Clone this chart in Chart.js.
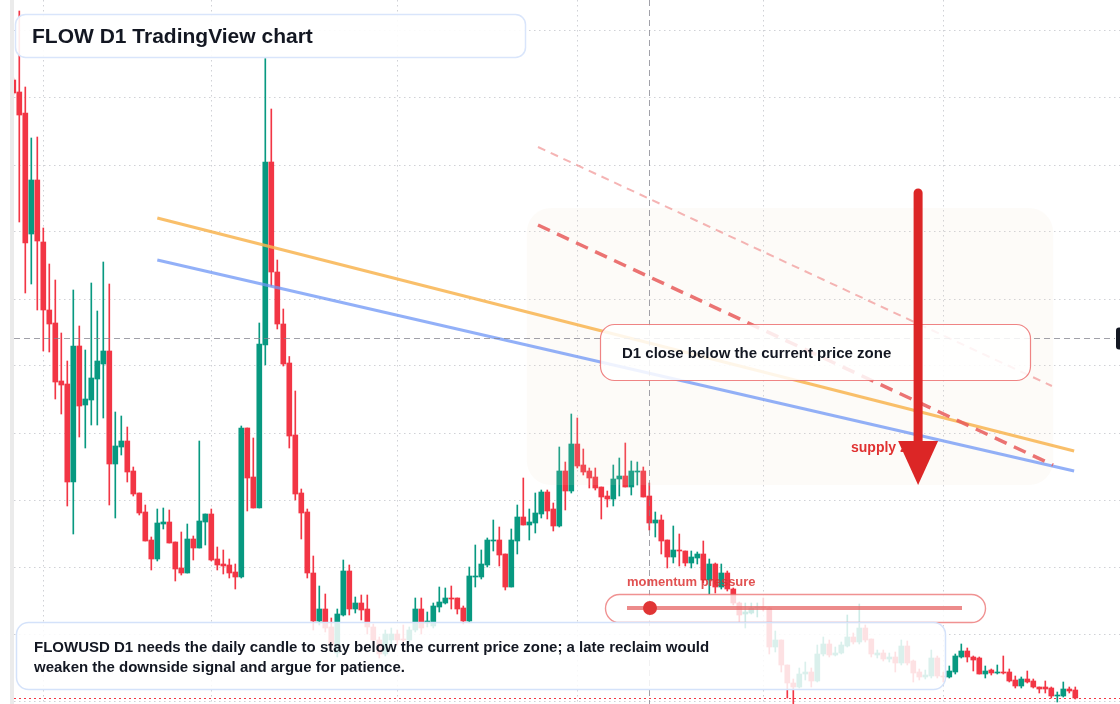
<!DOCTYPE html>
<html><head><meta charset="utf-8">
<script src="https://cdn.jsdelivr.net/npm/chart.js@4.4.1/dist/chart.umd.min.js"></script>
<style>html,body{margin:0;padding:0;background:#fff;}#wrap{position:relative;width:1120px;height:704px;}</style>
</head><body><div id="wrap"><canvas id="c"></canvas></div>
<script>
// Day index (0 = 1 Feb) of the first candle
const firstIndex = -5;
const open = [.924,.912,.891,.770,.824,.762,.694,.681,.623,.620,.522,.658,.599,.604,.625,.640,.653,.540,.557,.563,.533,.511,.492,.464,.445,.480,.482,.462,.436,.431,.465,.456,.482,.490,.445,.440,.439,.432,.427,.576,.527,.496,.659,.842,.732,.680,.641,.569,.511,.492,.431,.383,.395,.377,.351,.389,.433,.395,.401,.395,.377,.364,.350,.364,.370,.365,.364,.374,.395,.381,.378,.397,.401,.406,.406,.396,.383,.427,.427,.439,.463,.464,.450,.417,.463,.487,.479,.481,.490,.512,.495,.478,.533,.513,.560,.539,.533,.527,.517,.508,.505,.525,.528,.517,.532,.533,.508,.481,.484,.464,.447,.454,.453,.441,.446,.450,.424,.440,.417,.431,.415,.401,.390,.391,.396,.397,.396,.357,.364,.339,.321,.317,.330,.332,.323,.350,.360,.349,.351,.358,.367,.362,.376,.365,.349,.351,.345,.347,.341,.358,.343,.332,.327,.328,.346,.328,.327,.332,.347,.353,.347,.346,.330,.334,.331,.332,.332,.324,.318,.325,.323,.317,.317,.316,.308,.308,.315,.314];
const high = [.926,.993,.917,.866,.867,.776,.740,.724,.671,.643,.714,.678,.654,.721,.693,.742,.720,.592,.588,.577,.537,.511,.499,.467,.495,.496,.494,.462,.472,.480,.468,.563,.490,.495,.457,.454,.445,.440,.578,.576,.566,.681,.9455,.895,.744,.695,.6475,.613,.515,.495,.448,.418,.410,.386,.395,.444,.439,.407,.409,.409,.380,.367,.374,.376,.374,.379,.377,.406,.406,.392,.401,.417,.416,.418,.406,.398,.437,.459,.454,.466,.484,.477,.450,.475,.499,.526,.495,.511,.514,.514,.501,.557,.542,.590,.586,.555,.536,.536,.517,.513,.539,.546,.561,.543,.542,.537,.521,.492,.489,.464,.478,.470,.453,.453,.452,.463,.445,.441,.440,.433,.416,.402,.401,.401,.401,.406,.397,.373,.364,.339,.325,.336,.342,.336,.359,.367,.364,.357,.362,.389,.371,.400,.379,.365,.354,.354,.351,.352,.364,.363,.344,.335,.334,.354,.348,.332,.338,.350,.360,.356,.348,.347,.338,.335,.339,.348,.335,.328,.327,.333,.325,.317,.323,.317,.312,.322,.317,.317];
const low = [.909,.782,.711,.720,.694,.653,.652,.605,.590,.498,.470,.567,.556,.579,.579,.586,.499,.486,.549,.522,.508,.489,.463,.434,.443,.475,.461,.423,.429,.431,.444,.456,.459,.443,.434,.430,.426,.415,.426,.493,.496,.496,.639,.718,.675,.638,.556,.504,.465,.426,.374,.379,.372,.354,.347,.388,.389,.391,.384,.370,.359,.346,.348,.359,.359,.356,.362,.372,.370,.377,.376,.392,.400,.395,.390,.380,.381,.417,.425,.437,.453,.438,.414,.417,.450,.479,.464,.471,.486,.485,.473,.477,.494,.511,.536,.529,.516,.514,.485,.497,.498,.508,.517,.509,.519,.507,.474,.467,.450,.436,.441,.438,.438,.436,.440,.421,.410,.411,.415,.413,.399,.382,.376,.390,.387,.393,.350,.352,.332,.306,.300,.316,.324,.317,.322,.348,.347,.348,.350,.357,.360,.360,.362,.347,.346,.343,.342,.332,.339,.339,.322,.324,.325,.326,.326,.322,.326,.330,.346,.342,.333,.330,.326,.329,.330,.330,.322,.316,.316,.321,.316,.311,.311,.306,.302,.307,.311,.305];
const close = [.911,.889,.761,.824,.763,.694,.680,.622,.619,.522,.658,.598,.605,.626,.643,.653,.540,.558,.563,.532,.510,.491,.463,.445,.481,.482,.461,.435,.431,.465,.456,.483,.490,.444,.439,.438,.431,.427,.576,.526,.496,.660,.842,.732,.680,.640,.568,.510,.491,.431,.383,.395,.376,.359,.390,.433,.395,.401,.394,.377,.364,.350,.370,.370,.364,.364,.374,.395,.376,.383,.398,.402,.406,.405,.395,.383,.428,.428,.440,.464,.464,.449,.417,.464,.487,.479,.482,.491,.512,.493,.478,.533,.513,.560,.538,.532,.526,.516,.507,.505,.525,.528,.517,.533,.533,.507,.481,.484,.463,.447,.454,.453,.441,.447,.450,.424,.440,.417,.431,.415,.401,.389,.392,.396,.397,.396,.357,.364,.339,.321,.317,.330,.332,.323,.350,.360,.349,.351,.359,.367,.362,.376,.364,.350,.351,.345,.347,.341,.358,.341,.331,.327,.329,.346,.328,.327,.333,.348,.353,.347,.344,.330,.333,.331,.332,.331,.323,.318,.325,.322,.317,.315,.315,.308,.309,.315,.313,.306];
// month-start day indices used for the vertical grid
const monthStarts = [0, 28, 59, 89, 120, 150];
// price levels of the horizontal grid
const gridPrices = [0.973, 0.906, 0.839, 0.772, 0.705, 0.638, 0.571, 0.504, 0.437, 0.370, 0.303];
// overlays in (day index, price)
const orangeLine = [[19, 0.786], [171.8, 0.553]];
const blueLine = [[19, 0.744], [171.8, 0.533]];
const supplyDash = [[82.45, 0.779], [168.3, 0.539]];
const supplyDashLight = [[82.45, 0.857], [168.1, 0.618]];
const supplyZoneX = [80.6, 168.3];
const supplyZoneY = [0.796, 0.519];
const arrowX = 145.8;
const arrowY = [0.811, 0.519];
const crossX = 101;
const crossPrice = 0.666;

const n = open.length;
const idx = Array.from({length:n}, (_, i) => firstIndex + i);
const start = new Date(Date.UTC(2025, 1, 1));
const dates = idx.map(k => { const d = new Date(start.getTime() + k*86400000); return d.toISOString().slice(0,10); });
const GREEN = '#089981', RED = '#f23645';
const colors = idx.map((_, i) => close[i] >= open[i] ? GREEN : RED);

function roundRect(ctx, x, y, w, h, r){ ctx.beginPath(); ctx.roundRect(x, y, w, h, r); }

const overlay = {
  id: 'overlay',
  beforeDraw(chart){
    const ctx = chart.ctx;
    ctx.save(); ctx.fillStyle = '#ffffff'; ctx.fillRect(0,0,chart.width,chart.height);
    ctx.fillStyle = '#ebebeb'; ctx.fillRect(10,0,4,chart.height); ctx.restore();
  },
  afterDatasetsDraw(chart){
    const ctx = chart.ctx, xs = chart.scales.x, ys = chart.scales.y;
    const X = v => xs.getPixelForValue(v), Y = v => ys.getPixelForValue(v);
    const line = (pts, color, w, dash) => { ctx.save(); ctx.strokeStyle=color; ctx.lineWidth=w; ctx.setLineDash(dash||[]); ctx.lineCap='butt';
      ctx.beginPath(); ctx.moveTo(X(pts[0][0]), Y(pts[0][1])); ctx.lineTo(X(pts[1][0]), Y(pts[1][1])); ctx.stroke(); ctx.restore(); };
    // supply zone
    ctx.save(); ctx.fillStyle='rgba(240,220,200,0.12)';
    roundRect(ctx, X(supplyZoneX[0]), Y(supplyZoneY[0]), X(supplyZoneX[1])-X(supplyZoneX[0]), Y(supplyZoneY[1])-Y(supplyZoneY[0]), 24); ctx.fill(); ctx.restore();
    // trend lines
    line(orangeLine, 'rgba(248,180,80,0.85)', 3);
    line(blueLine, 'rgba(110,150,245,0.75)', 3);
    line(supplyDashLight, 'rgba(240,140,140,0.65)', 2, [8,6]);
    line(supplyDash, 'rgba(232,90,90,0.85)', 3.5, [13,8]);
    // crosshair
    ctx.save(); ctx.strokeStyle='rgba(130,130,140,0.75)'; ctx.lineWidth=1; ctx.setLineDash([6,4]);
    const cx = Math.round(X(crossX))+0.5, cy = Math.round(Y(crossPrice))+0.5;
    ctx.beginPath(); ctx.moveTo(cx, 0); ctx.lineTo(cx, chart.height); ctx.stroke();
    ctx.beginPath(); ctx.moveTo(14, cy); ctx.lineTo(1115, cy); ctx.stroke(); ctx.restore();
    ctx.save(); ctx.fillStyle='#131722'; roundRect(ctx, 1116, cy-11, 12, 22, 3); ctx.fill(); ctx.restore();
    // current price line
    ctx.save(); ctx.strokeStyle=RED; ctx.lineWidth=1; ctx.setLineDash([2,3]);
    const py = Math.round(Y(close[n-1]))+0.5; ctx.beginPath(); ctx.moveTo(14, py); ctx.lineTo(1120, py); ctx.stroke(); ctx.restore();
    // callout box
    ctx.save(); ctx.fillStyle='rgba(255,255,255,0.85)'; ctx.strokeStyle='rgba(236,110,110,0.85)'; ctx.lineWidth=1.2;
    roundRect(ctx, 600.5, 324.5, 430, 56, 14); ctx.fill(); ctx.stroke();
    ctx.fillStyle='#131722'; ctx.font='bold 15px "Liberation Sans", Arial, sans-serif'; ctx.textBaseline='middle';
    ctx.fillText('D1 close below the current price zone', 622, 354); ctx.restore();
    // supply zone label
    ctx.save(); ctx.fillStyle='#e03131'; ctx.font='bold 14px "Liberation Sans", Arial, sans-serif'; ctx.textBaseline='middle';
    ctx.fillText('supply zone', 851, 448); ctx.restore();
    // arrow
    ctx.save(); const ax = X(arrowX), ay0 = Y(arrowY[0]), ay1 = Y(arrowY[1]);
    ctx.strokeStyle='#dc2626'; ctx.fillStyle='#dc2626'; ctx.lineWidth=9; ctx.lineCap='round';
    ctx.beginPath(); ctx.moveTo(ax, ay0); ctx.lineTo(ax, ay1-44); ctx.stroke();
    ctx.beginPath(); ctx.moveTo(ax-20, ay1-44); ctx.lineTo(ax+20, ay1-44); ctx.lineTo(ax, ay1); ctx.closePath(); ctx.fill(); ctx.restore();
    // momentum capsule
    ctx.save(); ctx.fillStyle='rgba(220,50,50,0.85)'; ctx.font='bold 13px "Liberation Sans", Arial, sans-serif'; ctx.textBaseline='middle';
    ctx.fillText('momentum pressure', 627, 582);
    ctx.fillStyle='rgba(255,255,255,0.8)'; ctx.strokeStyle='rgba(235,110,110,0.75)'; ctx.lineWidth=1.4;
    roundRect(ctx, 605.5, 594.5, 380, 28, 14); ctx.fill(); ctx.stroke();
    ctx.strokeStyle='rgba(230,100,100,0.75)'; ctx.lineWidth=4; ctx.beginPath(); ctx.moveTo(627, 608); ctx.lineTo(962, 608); ctx.stroke();
    ctx.fillStyle='#e03535'; ctx.beginPath(); ctx.arc(650, 608, 7, 0, Math.PI*2); ctx.fill(); ctx.restore();
    // title box
    ctx.save(); ctx.fillStyle='rgba(255,255,255,0.9)'; ctx.strokeStyle='#d9e5fb'; ctx.lineWidth=1.5;
    roundRect(ctx, 15.5, 14.5, 510, 43, 10); ctx.fill(); ctx.stroke();
    ctx.fillStyle='#131722'; ctx.font='bold 21px "Liberation Sans", Arial, sans-serif'; ctx.textBaseline='middle';
    ctx.fillText('FLOW D1 TradingView chart', 32, 37); ctx.restore();
    // footnote box
    ctx.save(); ctx.fillStyle='rgba(255,255,255,0.85)'; ctx.strokeStyle='#d4e2fa'; ctx.lineWidth=1.5;
    roundRect(ctx, 16.5, 622.5, 929, 67, 12); ctx.fill(); ctx.stroke();
    ctx.fillStyle='#131722'; ctx.font='bold 15px "Liberation Sans", Arial, sans-serif'; ctx.textBaseline='middle';
    ctx.fillText('FLOWUSD D1 needs the daily candle to stay below the current price zone; a late reclaim would', 34, 648);
    ctx.fillText('weaken the downside signal and argue for patience.', 34, 668); ctx.restore();
  }
};

new Chart(document.getElementById('c'), {
  type: 'bar',
  data: {
    labels: dates,
    datasets: [
      { label: 'wick', data: idx.map((k,i) => ({x:k, y:[low[i], high[i]]})), backgroundColor: colors, barThickness: 1, grouped: false, minBarLength: 1 },
      { label: 'body', data: idx.map((k,i) => ({x:k, y:[open[i], close[i]]})), backgroundColor: colors, barThickness: 5, grouped: false, minBarLength: 1 }
    ]
  },
  options: {
    responsive: true, maintainAspectRatio: false, animation: false,
    layout: { padding: { left: 14, right: 0, top: 0, bottom: 0 } },
    plugins: { legend: { display: false }, tooltip: { enabled: false } },
    scales: {
      x: { type: 'linear', min: (14 - 43.3)/6, max: (1120 - 43.3)/6, offset: false,
           ticks: { display: false }, border: { display: false, dash: [1.5,3.5] },
           grid: { offset: false, drawTicks: false, color: 'rgba(170,172,180,0.55)', lineWidth: 1 },
           afterBuildTicks: s => { s.ticks = monthStarts.map(v => ({value: v})); },
           afterFit: s => { s.height = 0; } },
      y: { type: 'linear', min: 0.300, max: 1.004,
           ticks: { display: false }, border: { display: false, dash: [1.5,3.5] },
           grid: { drawTicks: false, color: 'rgba(170,172,180,0.55)', lineWidth: 1 },
           afterBuildTicks: s => { s.ticks = gridPrices.map(v => ({value: v})); },
           afterFit: s => { s.width = 0; } }
    }
  },
  plugins: [overlay]
});
</script></body></html>
